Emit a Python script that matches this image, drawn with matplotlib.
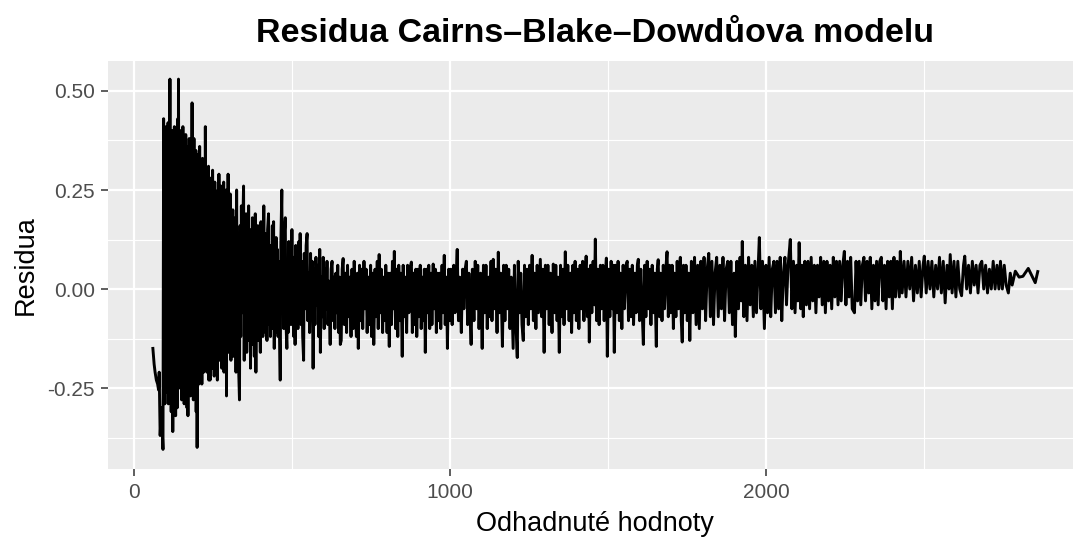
import numpy as np
import matplotlib
matplotlib.use("Agg")
import matplotlib.pyplot as plt
from matplotlib.ticker import FixedLocator

plt.rcParams["font.family"] = ["Liberation Sans", "DejaVu Sans"]

# Text
title = "Residua Cairns\u2013Blake\u2013Dowdůova modelu"
x_title = "Odhadnuté hodnoty"
y_title = "Residua"

# Axis ticks
x_ticks = [0, 1000, 2000]
x_tick_labels = ["0", "1000", "2000"]
x_minor = [500, 1500, 2500]
y_ticks = [-0.25, 0.0, 0.25, 0.50]
y_tick_labels = ["-0.25", "0.00", "0.25", "0.50"]
y_minor = [-0.375, -0.125, 0.125, 0.375]

# Residuals ordered by fitted value, split into ranges of the fitted value
fit_lead = [59, 63, 66, 70, 74, 77, 79, 82, 86, 91]
res_lead = [-0.15, -0.19, -0.21, -0.23, -0.24, -0.255, -0.21, -0.37, -0.30, -0.405]

fit_dense = [93, 94, 96, 97, 98, 100, 101, 103, 104, 106,
             107, 108, 110, 111, 113, 114, 115, 117, 118, 120,
             121, 122, 124, 125, 127, 128, 129, 131, 132, 134,
             135, 136, 138, 139, 140, 142, 143, 144, 146, 147,
             149, 150, 151, 153, 154, 156, 157, 158, 160, 161,
             163, 164, 165, 167, 168, 170, 171, 172, 174, 175,
             177, 178, 180, 181, 183, 184, 186, 187, 189, 190,
             192, 193, 195, 196, 198, 199, 201, 202, 204, 205,
             207, 208, 210, 211, 213, 214, 216, 217, 219, 220,
             222, 224, 225, 227, 228, 230, 231, 233, 235, 236,
             238, 240, 241, 243, 245, 246, 248, 250, 251, 253,
             255, 256, 258, 260, 262, 263, 265, 267, 268, 270,
             272, 274, 275, 277, 279, 281, 283, 284, 286, 288,
             290, 292, 293, 295, 297, 299, 300, 302, 304, 306]
res_dense = [0.43, -0.22, 0.38, -0.29, 0.21, -0.12, 0.41, -0.26, 0.33, -0.18,
             0.42, -0.29, 0.12, -0.24, 0.53, -0.05, 0.36, -0.31, 0.27, -0.20,
             0.40, -0.36, 0.18, -0.27, 0.41, -0.14, 0.30, -0.32, 0.39, -0.22,
             0.06, -0.30, 0.43, -0.18, 0.53, -0.10, 0.34, -0.25, 0.40, -0.21,
             0.23, -0.28, 0.38, -0.16, 0.41, -0.26, 0.15, -0.29, 0.37, -0.20,
             0.39, -0.08, 0.29, -0.30, 0.36, -0.32, 0.21, -0.24, 0.38, -0.15,
             0.33, -0.27, 0.36, -0.19, 0.47, -0.12, 0.27, -0.28, 0.38, -0.23,
             0.10, -0.26, 0.35, -0.31, 0.24, -0.40, 0.34, -0.14, 0.30, -0.24,
             0.36, -0.21, 0.19, -0.23, 0.28, -0.24, 0.33, -0.17, 0.26, -0.21,
             0.08, -0.19, 0.41, -0.12, 0.30, -0.21, 0.22, -0.15, 0.31, -0.23,
             0.17, -0.23, 0.28, -0.10, 0.24, -0.20, 0.30, -0.16, 0.12, -0.22,
             0.27, -0.13, 0.23, -0.19, 0.05, -0.23, 0.25, -0.11, 0.29, -0.18,
             0.22, -0.15, 0.26, -0.20, 0.14, -0.17, 0.27, -0.21, 0.18, -0.09,
             0.25, -0.27, 0.20, -0.14, 0.29, -0.16, 0.21, -0.12, 0.24, -0.18]

fit_taper = [308, 310, 312, 314, 316, 318, 320, 322, 324, 326,
             328, 330, 333, 335, 337, 339, 341, 343, 346, 348,
             350, 352, 354, 356, 358, 360, 362, 364, 366, 368,
             370, 372, 374, 376, 378, 380, 383, 385, 387, 389,
             391, 393, 395, 397, 399, 401, 403, 405, 407, 410,
             412, 414, 416, 418, 420, 422, 425, 427, 429, 431,
             433, 435, 437, 439, 441, 443, 445, 447, 449, 451,
             453, 455, 457, 459, 462, 464, 467, 469, 471, 473,
             475, 478, 480, 483, 485, 487, 489, 491, 493, 496,
             499, 501, 503, 505, 507, 509, 511, 514, 516, 518,
             521, 523, 525, 528, 530, 533, 536, 538, 541, 544,
             547, 549, 552, 555, 558, 561, 563, 566, 569, 572,
             575, 578, 581, 584, 587, 589, 592, 595, 598, 601,
             604, 607, 610, 613, 616, 620, 623, 626, 629, 632,
             635, 638, 641, 644, 647, 650, 652]
res_taper = [0.15, -0.13, 0.20, -0.17, 0.09, -0.10, 0.18, -0.21, 0.25, -0.08,
             0.12, -0.19, -0.28, 0.16, -0.12, 0.21, -0.06, 0.14, 0.26, -0.18,
             0.11, -0.15, 0.19, -0.16, 0.07, -0.11, 0.21, -0.13, 0.15, -0.20,
             0.12, -0.09, 0.18, -0.14, 0.03, -0.17, 0.19, -0.21, 0.10, -0.08,
             0.16, -0.13, 0.13, -0.05, -0.16, 0.17, -0.10, 0.08, -0.12, 0.21,
             -0.07, 0.14, -0.11, 0.06, -0.13, 0.15, 0.19, -0.09, 0.11, -0.12,
             0.04, -0.10, 0.16, -0.06, 0.17, -0.15, 0.09, -0.11, 0.13, -0.04,
             0.10, -0.12, 0.07, -0.08, -0.23, 0.12, 0.25, -0.06, 0.09, -0.10,
             0.14, 0.18, -0.08, -0.15, 0.06, -0.11, 0.12, -0.04, 0.10, -0.09,
             0.15, -0.06, 0.08, -0.12, 0.05, -0.14, 0.11, -0.07, 0.06, -0.10,
             0.12, -0.03, 0.14, -0.09, 0.07, -0.12, -0.18, 0.09, -0.05, 0.11,
             0.14, -0.08, 0.04, -0.11, 0.09, -0.06, 0.07, -0.20, 0.05, -0.09,
             0.08, -0.04, 0.06, -0.12, 0.10, -0.16, 0.03, -0.07, 0.08, -0.10,
             0.05, -0.05, 0.07, -0.09, 0.02, -0.14, 0.05, 0.07, -0.08, 0.03,
             -0.10, 0.04, -0.06, 0.06, -0.11, 0.03, -0.14]

fit_mid_a = [655, 658, 661, 665, 668, 672, 675, 679, 682, 686,
             689, 693, 696, 700, 703, 706, 709, 713, 716, 720,
             723, 727, 730, 734, 737, 741, 744, 748, 751, 755,
             758, 762, 765, 769, 772, 775, 779, 782, 786, 789,
             793, 796, 800, 803, 807, 810, 814, 817, 820, 823,
             827, 830, 834, 837, 841, 844, 848, 851, 855, 858,
             862, 865, 869, 872, 877, 880, 884, 887, 891, 894,
             898, 901, 905, 908, 912, 915, 918, 921, 925, 928,
             932, 935, 939, 942, 946, 949, 953, 956, 960, 963,
             967, 970, 974, 977, 981, 984, 988, 991, 995, 998]
res_mid_a = [-0.13, 0.05, 0.077, -0.09, 0.04, -0.11, 0.06, -0.07, 0.03, -0.12,
             0.05, -0.10, 0.07, -0.06, -0.12, 0.04, -0.15, 0.06, -0.08, 0.05,
             -0.10, 0.07, -0.05, 0.05, -0.11, 0.03, -0.09, 0.06, -0.12, 0.04,
             -0.14, 0.05, -0.07, 0.07, -0.10, 0.087, -0.06, 0.05, -0.11, 0.03,
             -0.08, 0.06, -0.11, 0.04, -0.145, 0.04, -0.09, 0.07, -0.05, 0.095,
             -0.10, 0.05, -0.12, 0.06, -0.08, 0.04, -0.17, 0.06, -0.07, 0.03,
             -0.11, 0.06, -0.06, 0.05, 0.068, -0.11, 0.04, -0.09, 0.05, -0.12,
             0.05, -0.07, 0.06, -0.10, 0.03, -0.08, 0.05, -0.16, 0.05, -0.06,
             0.06, -0.10, 0.04, -0.09, 0.063, -0.05, 0.05, -0.11, 0.04, -0.08,
             0.04, -0.10, 0.06, -0.06, 0.085, -0.09, 0.03, -0.15, 0.05, -0.08]

fit_mid_b = [1002, 1006, 1011, 1015, 1019, 1022, 1026, 1030, 1035, 1039,
             1043, 1047, 1051, 1055, 1059, 1063, 1066, 1070, 1075, 1079,
             1083, 1087, 1091, 1096, 1101, 1105, 1109, 1113, 1117, 1121,
             1125, 1129, 1132, 1136, 1140, 1144, 1148, 1152, 1156, 1160,
             1165, 1169, 1173, 1177, 1181, 1185, 1189, 1193, 1199, 1203,
             1207, 1212, 1215, 1219, 1223, 1227, 1231, 1235, 1239, 1243,
             1247, 1251, 1255, 1259, 1263, 1267, 1271, 1275, 1279, 1285,
             1289, 1293, 1297, 1301, 1305, 1309, 1313, 1317, 1322, 1326,
             1330, 1334, 1338, 1341, 1345, 1349, 1353, 1357, 1360, 1364,
             1368, 1372, 1376, 1380, 1384, 1388, 1391, 1395, 1399, 1403,
             1407, 1411, 1415, 1419, 1423, 1427, 1430, 1434, 1437, 1440,
             1444, 1448, 1452, 1456, 1459, 1463, 1467, 1471, 1475, 1479,
             1483, 1487, 1491, 1494, 1497, 1501, 1505, 1509, 1513, 1516,
             1519, 1523, 1527, 1531, 1535, 1539, 1543, 1547, 1551, 1556,
             1560, 1564, 1568, 1572, 1576, 1580, 1584, 1588, 1592, 1595,
             1599, 1603, 1607, 1611, 1615, 1619, 1623, 1627, 1631, 1635,
             1639, 1643, 1647, 1652, 1655, 1658, 1662, 1666, 1670, 1674,
             1678, 1682, 1686, 1690, 1694, 1698, 1702, 1706, 1710, 1714,
             1718, 1722, 1725, 1728, 1731, 1734, 1738, 1742, 1746, 1750,
             1754, 1758]
res_mid_b = [0.05, -0.09, 0.06, -0.06, 0.04, 0.10, -0.08, 0.03, -0.11, 0.05,
             -0.05, 0.05, 0.07, -0.09, 0.04, -0.07, -0.14, 0.05, -0.08, 0.07,
             -0.05, 0.06, -0.10, 0.04, -0.15, 0.06, -0.06, 0.06, -0.10, 0.03,
             -0.07, 0.07, -0.08, 0.075, -0.05, 0.05, -0.11, 0.093, -0.06, 0.04,
             -0.145, 0.06, -0.08, 0.06, -0.05, 0.05, -0.10, 0.03, -0.15, 0.06,
             -0.07, -0.173, 0.07, -0.06, 0.04, -0.09, -0.13, 0.06, -0.07, 0.05,
             -0.09, 0.06, -0.05, 0.085, -0.08, 0.04, -0.10, 0.06, -0.06, 0.075,
             -0.07, 0.05, -0.16, 0.06, -0.05, 0.06, -0.09, 0.04, -0.11, 0.063,
             -0.06, 0.06, -0.08, 0.03, -0.16, 0.06, -0.07, 0.05, -0.09, 0.094,
             -0.05, 0.06, -0.08, 0.04, -0.11, 0.06, -0.06, 0.07, -0.08, 0.05,
             -0.10, 0.06, -0.05, 0.07, -0.08, 0.04, 0.083, -0.07, 0.05, -0.134,
             0.06, -0.06, 0.07, -0.04, 0.126, -0.08, 0.05, -0.09, 0.06, -0.05,
             0.06, -0.08, 0.04, 0.078, -0.17, 0.05, -0.07, 0.07, -0.05, 0.06,
             -0.16, 0.06, -0.06, 0.07, -0.08, 0.04, -0.10, 0.06, -0.05, 0.06,
             0.07, -0.08, 0.05, -0.07, 0.06, -0.09, 0.04, -0.06, 0.06, 0.075,
             -0.08, 0.05, -0.05, -0.14, 0.06, -0.07, 0.07, -0.05, 0.05, -0.09,
             0.06, -0.06, 0.04, -0.145, 0.05, 0.074, -0.07, 0.04, -0.08, 0.06,
             -0.05, 0.05, 0.094, -0.07, 0.06, -0.06, 0.06, -0.10, 0.04, -0.07,
             0.07, -0.05, 0.05, 0.08, -0.08, -0.134, 0.06, -0.06, 0.06, -0.08,
             0.04, -0.13]

fit_high_a = [1763, 1768, 1773, 1778, 1783, 1788, 1793, 1798, 1803, 1808,
              1813, 1818, 1823, 1828, 1833, 1838, 1843, 1848, 1853, 1858,
              1863, 1868, 1873, 1878, 1883, 1888, 1893, 1898, 1902, 1907,
              1912, 1917, 1921, 1924, 1929, 1934, 1939, 1944, 1949, 1954,
              1959, 1964, 1969, 1974, 1978, 1983, 1988, 1994, 1999, 2004,
              2009, 2014, 2019, 2024, 2029, 2034, 2039, 2044, 2049, 2054,
              2059, 2064, 2069, 2076, 2081, 2086, 2091, 2096, 2100, 2104,
              2109, 2113, 2117, 2122, 2127, 2132, 2137, 2142, 2147, 2152,
              2157, 2162, 2167, 2172, 2177, 2182, 2187, 2192, 2197, 2202,
              2207, 2212, 2217, 2222, 2227, 2232, 2237, 2242, 2247, 2252,
              2257, 2262, 2267, 2272, 2279, 2284, 2289, 2294, 2299, 2304,
              2309, 2314, 2319, 2324, 2329, 2334, 2339, 2344, 2349, 2354,
              2359, 2364, 2369, 2374, 2379, 2384, 2389, 2394, 2399, 2404,
              2409, 2414]
res_high_a = [0.07, -0.06, 0.08, -0.09, 0.06, -0.10, 0.07, -0.05, 0.08, -0.08,
              0.05, 0.09, -0.07, 0.07, -0.09, 0.04, 0.08, -0.07, 0.06, -0.05,
              0.08, -0.08, 0.05, 0.07, -0.06, 0.07, -0.09, 0.04, -0.12, 0.07,
              -0.05, 0.08, -0.03, 0.12, -0.07, 0.06, -0.08, 0.08, -0.04, 0.06,
              -0.07, 0.07, -0.06, 0.05, 0.13, -0.05, 0.07, -0.10, 0.06, -0.06,
              0.08, -0.07, 0.05, 0.07, -0.06, 0.07, -0.05, 0.08, -0.08, 0.04,
              0.08, -0.04, 0.06, 0.125, -0.05, 0.07, -0.06, 0.06, -0.03, 0.117,
              -0.05, 0.06, -0.07, 0.07, -0.04, 0.07, -0.05, 0.08, -0.03, 0.06,
              -0.06, 0.06, -0.02, 0.08, -0.04, 0.07, -0.06, 0.07, -0.03, 0.06,
              -0.05, 0.08, -0.02, 0.07, -0.04, 0.07, -0.03, 0.06, 0.095, -0.04,
              0.07, -0.02, 0.08, -0.05, -0.06, 0.07, -0.03, 0.07, -0.04, 0.06,
              0.08, -0.03, 0.07, -0.01, 0.08, -0.05, 0.06, -0.03, 0.07, -0.04,
              0.07, 0.08, -0.03, 0.06, -0.05, 0.07, -0.02, 0.07, -0.05, 0.08,
              -0.02, 0.07]

fit_high_b = [2421, 2424, 2430, 2436, 2442, 2448, 2454, 2460, 2466, 2472,
              2478, 2484, 2490, 2496, 2500, 2506, 2512, 2518, 2524, 2530,
              2536, 2542, 2548, 2554, 2560, 2566, 2572, 2578, 2582, 2588,
              2594, 2600, 2606, 2612, 2618, 2624, 2628, 2634, 2640, 2646,
              2652, 2658, 2664, 2670, 2676, 2682, 2688, 2694, 2700, 2706,
              2712, 2718, 2724, 2730, 2736, 2741]
res_high_b = [-0.02, 0.095, -0.01, 0.07, -0.02, 0.07, 0.00, 0.08, -0.03, 0.06,
              -0.01, 0.07, -0.02, 0.06, 0.083, -0.01, 0.07, 0.00, 0.07, -0.02,
              0.06, 0.00, 0.08, -0.01, 0.07, -0.035, 0.06, 0.00, 0.087, -0.01,
              0.07, -0.02, 0.07, 0.00, -0.017, 0.06, 0.083, 0.00, 0.06, -0.01,
              0.07, 0.01, 0.06, -0.01, 0.06, 0.07, 0.00, 0.06, -0.01, 0.05,
              0.00, 0.07, 0.00, 0.06, 0.00, 0.07]

fit_tail = [2747, 2753, 2759, 2766, 2772, 2778, 2788, 2800, 2812, 2829, 2851, 2859]
res_tail = [0.00, 0.06, 0.01, -0.01, 0.04, 0.01, 0.045, 0.03, 0.032, 0.052, 0.016, 0.044]

fitted = np.concatenate([fit_lead, fit_dense, fit_taper, fit_mid_a,
                         fit_mid_b, fit_high_a, fit_high_b, fit_tail])
resid = np.concatenate([res_lead, res_dense, res_taper, res_mid_a,
                        res_mid_b, res_high_a, res_high_b, res_tail])

# Figure and panel (pixel geometry)
W, H = 1073, 537
fig = plt.figure(figsize=(W / 100, H / 100), dpi=100)
fig.patch.set_facecolor("white")
p_left, p_right, p_top, p_bottom = 108, 1082, 60.7, 469
ax = fig.add_axes([p_left / W, 1 - p_bottom / H,
                   (p_right - p_left) / W, (p_bottom - p_top) / H])
ax.set_facecolor("#EBEBEB")
ax.set_xlim(-83, 2999)
ax.set_ylim(-0.4545, 0.5765)

ax.set_xticks(x_ticks)
ax.set_xticklabels(x_tick_labels)
ax.set_yticks(y_ticks)
ax.set_yticklabels(y_tick_labels)
ax.xaxis.set_minor_locator(FixedLocator(x_minor))
ax.yaxis.set_minor_locator(FixedLocator(y_minor))
ax.grid(which="major", color="white", linewidth=1.6)
ax.grid(which="minor", color="white", linewidth=0.8)
ax.set_axisbelow(True)
for s in ax.spines.values():
    s.set_visible(False)
ax.tick_params(which="major", length=5, width=1.1, color="#333333",
               labelsize=15, labelcolor="#4D4D4D")
ax.tick_params(axis="x", pad=5)
ax.tick_params(axis="y", pad=4.5)
ax.tick_params(which="minor", length=0)

ax.plot(fitted, resid, color="black", linewidth=2.1, solid_joinstyle="round")

fig.text(595 / W, 1 - 42 / H, title, ha="center", va="baseline",
         fontsize=24.5, fontweight="bold")
fig.text(595 / W, 1 - 531 / H, x_title, ha="center", va="baseline",
         fontsize=19.5, color="black")
fig.text(33 / W, 1 - 265 / H, y_title, rotation=90, rotation_mode="anchor",
         ha="center", va="baseline", fontsize=19.5, color="black")

fig.savefig("out.png", dpi=100)
